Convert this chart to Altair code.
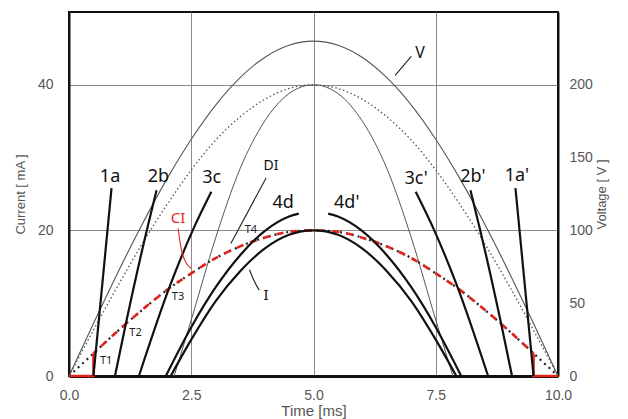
import altair as alt
import pandas as pd

# ---------------- data ----------------
T_GRID = [0.0, 0.5, 1.0, 1.5, 2.0, 2.5, 3.0, 3.5, 4.0, 4.5, 5.0,
          5.5, 6.0, 6.5, 7.0, 7.5, 8.0, 8.5, 9.0, 9.5, 10.0]
V_VOLT = [0, 36.0, 71.1, 104.4, 135.2, 162.6, 186.1, 204.9, 218.8, 227.2, 230.0,
          227.2, 218.8, 204.9, 186.1, 162.6, 135.2, 104.4, 71.1, 36.0, 0]
DOT40 = [0, 6.3, 12.4, 18.2, 23.5, 28.3, 32.4, 35.6, 38.0, 39.5, 40.0,
         39.5, 38.0, 35.6, 32.4, 28.3, 23.5, 18.2, 12.4, 6.3, 0]
CI_MA = [0, 3.1, 6.2, 9.1, 11.8, 14.1, 16.2, 17.8, 19.0, 19.8, 20.0,
         19.8, 19.0, 17.8, 16.2, 14.1, 11.8, 9.1, 6.2, 3.1, 0]

DI_T = [2.15, 2.5, 3.0, 3.5, 4.0, 4.5, 5.0, 5.5, 6.0, 6.5, 7.0, 7.5, 7.85]
DI_Y = [0, 7.7, 19.0, 28.5, 35.0, 38.8, 40.0, 38.8, 35.0, 28.5, 19.0, 7.7, 0]

I_T = [2.08, 2.5, 3.0, 3.5, 4.0, 4.5, 5.0, 5.5, 6.0, 6.5, 7.0, 7.5, 7.92]
I_Y = [0, 5.0, 10.3, 14.4, 17.5, 19.4, 20.0, 19.4, 17.5, 14.4, 10.3, 5.0, 0]

D4_T = [1.98, 2.5, 3.0, 3.5, 4.0, 4.5, 4.7]
D4_Y = [0, 6.7, 12.2, 16.6, 19.9, 21.9, 22.3]
D4P_T = [5.3, 5.5, 6.0, 6.5, 7.0, 7.5, 8.02]
D4P_Y = [22.3, 21.9, 19.9, 16.6, 12.2, 6.7, 0]

A1_T = [0.50, 0.87]
A1_Y = [0, 25.8]
A1P_T = [9.13, 9.50]
A1P_Y = [25.8, 0]
B2_T = [0.94, 1.16, 1.59, 1.79]
B2_Y = [0, 7.1, 20.0, 25.5]
B2P_T = [8.21, 8.41, 8.84, 9.06]
B2P_Y = [25.5, 20.0, 7.1, 0]
C3_T = [1.43, 2.06, 2.53, 2.91]
C3_Y = [0, 12.3, 20.0, 25.3]
C3P_T = [7.09, 7.47, 7.94, 8.57]
C3P_Y = [25.3, 20.0, 12.3, 0]

RED_STEP_L_T = [0.0, 0.5, 0.5]
RED_STEP_L_Y = [0, 0, 3.1]
RED_STEP_R_T = [9.5, 9.5, 10.0]
RED_STEP_R_Y = [3.1, 0, 0]

BIG_TEXT = ["1a", "2b", "3c", "4d", "4d'", "3c'", "2b'", "1a'"]
BIG_T = [0.84, 1.83, 2.92, 4.38, 5.68, 7.10, 8.26, 9.16]
BIG_Y = [27.4, 27.4, 27.2, 23.7, 23.7, 27.1, 27.4, 27.5]

T_TEXT = ["T1", "T2", "T3", "T4"]
T_T = [0.76, 1.36, 2.23, 3.72]
T_Y = [2.1, 5.9, 10.8, 20.0]

LEAD_V_T = [6.67, 7.0]
LEAD_V_Y = [41.3, 43.9]
LEAD_DI_T = [3.31, 4.03]
LEAD_DI_Y = [18.2, 27.2]
LEAD_I_T = [3.69, 3.79, 3.89]
LEAD_I_Y = [14.6, 13.0, 11.8]
LEAD_CI_T = [2.23, 2.30, 2.40, 2.50]
LEAD_CI_Y = [20.3, 17.3, 15.5, 14.8]


def frame(ts, ys, key="s"):
    return pd.DataFrame({"t": ts, "y": ys, "k": key})


# ---------------- encodings ----------------
x_axis = alt.Axis(values=[0, 2.5, 5, 7.5, 10], format=".1f", title="Time [ms]",
                  grid=True, gridColor="#8a8a8a", gridWidth=1, ticks=False,
                  labelPadding=12, labelFlush=False, domainColor="#111", domainWidth=3,
                  labelColor="#555", labelFontSize=14, titleColor="#555",
                  titleFontSize=15, titleY=34, titleBaseline="middle")
X = alt.X("t:Q", scale=alt.Scale(domain=[0, 10], nice=False, zero=False), axis=x_axis)

y_axis = alt.Axis(values=[0, 20, 40], title="Current [ mA ]", grid=True,
                  gridColor="#8a8a8a", gridWidth=1, ticks=False, labelPadding=16,
                  domainColor="#111", domainWidth=2, labelColor="#555",
                  labelFontSize=14, titleColor="#555", titleFontSize=13,
                  titleAngle=270, titleX=-49, titleY=182, titleAlign="center",
                  titleBaseline="middle")
Y = alt.Y("y:Q", scale=alt.Scale(domain=[0, 50], nice=False), axis=y_axis)

r_axis = alt.Axis(orient="right", values=[0, 50, 100, 150, 200], title="Voltage [ V ]",
                  grid=False, ticks=False, labelPadding=11, domainColor="#111",
                  domainWidth=2, labelColor="#555", labelFontSize=14,
                  titleColor="#555", titleFontSize=13, titleAngle=270, titleX=43,
                  titleY=182, titleAlign="center", titleBaseline="middle")
YV = alt.Y("y:Q", scale=alt.Scale(domain=[0, 250], nice=False), axis=r_axis)

# ---------------- layers ----------------
v_line = alt.Chart(frame(T_GRID, V_VOLT)).mark_line(
    color="#555", strokeWidth=1.1, interpolate="monotone").encode(x=X, y=YV)

dot40 = alt.Chart(frame(T_GRID, DOT40)).mark_line(
    color="#555", strokeWidth=1.3, strokeDash=[1.5, 2.5], interpolate="monotone"
).encode(x=X, y=Y)

di_line = alt.Chart(frame(DI_T, DI_Y)).mark_line(
    color="#555", strokeWidth=1.0, interpolate="monotone").encode(x=X, y=Y)

ci_black = alt.Chart(frame(T_GRID, CI_MA)).mark_line(
    color="#222", strokeWidth=2.2, strokeDash=[2, 4], interpolate="monotone"
).encode(x=X, y=Y)

ci_red = alt.Chart(frame(T_GRID[1:20], CI_MA[1:20])).mark_line(
    color="#e3231c", strokeWidth=2.6, strokeDash=[7, 7], strokeDashOffset=3,
    interpolate="monotone").encode(x=X, y=Y)

steps = pd.concat([frame(RED_STEP_L_T, RED_STEP_L_Y, "L"), frame(RED_STEP_R_T, RED_STEP_R_Y, "R")])
steps["i"] = list(range(len(steps)))
red_steps = alt.Chart(steps).mark_line(color="#e3231c", strokeWidth=2.6).encode(
    x=X, y=Y, detail="k:N", order="i:Q")

thick_df = pd.concat([
    frame(A1_T, A1_Y, "1a"), frame(A1P_T, A1P_Y, "1a'"),
    frame(B2_T, B2_Y, "2b"), frame(B2P_T, B2P_Y, "2b'"),
    frame(C3_T, C3_Y, "3c"), frame(C3P_T, C3P_Y, "3c'"),
    frame(D4_T, D4_Y, "4d"), frame(D4P_T, D4P_Y, "4d'"),
    frame(I_T, I_Y, "I"),
])
thick = alt.Chart(thick_df).mark_line(
    color="#111", strokeWidth=2.2, interpolate="monotone").encode(x=X, y=Y, detail="k:N")

lead_df = pd.concat([frame(LEAD_V_T, LEAD_V_Y, "V"), frame(LEAD_DI_T, LEAD_DI_Y, "DI"),
                     frame(LEAD_I_T, LEAD_I_Y, "I")])
leads = alt.Chart(lead_df).mark_line(color="#222", strokeWidth=1.1, interpolate="monotone").encode(
    x=X, y=Y, detail="k:N")
lead_ci = alt.Chart(frame(LEAD_CI_T, LEAD_CI_Y)).mark_line(
    color="#e3231c", strokeWidth=1.1, interpolate="monotone").encode(x=X, y=Y)

big_df = pd.DataFrame({"t": BIG_T, "y": BIG_Y, "txt": BIG_TEXT})
big = alt.Chart(big_df).mark_text(font="Noto Sans", fontSize=18, color="#111",
                                  baseline="middle").encode(x=X, y=Y, text="txt:N")

tl_df = pd.DataFrame({"t": T_T, "y": T_Y, "txt": T_TEXT})
tl = alt.Chart(tl_df).mark_text(font="Noto Sans", fontSize=11, color="#222",
                                baseline="middle").encode(x=X, y=Y, text="txt:N")

misc_df = pd.DataFrame({"t": [7.18, 4.13, 4.03], "y": [44.4, 28.8, 11.1],
                        "txt": ["V", "DI", "I"], "fs": [16, 14, 15]})
misc = alt.Chart(misc_df).mark_text(font="Noto Sans", color="#111", baseline="middle").encode(
    x=X, y=Y, text="txt:N", size=alt.Size("fs:Q", scale=None, legend=None))

ci_lab = alt.Chart(pd.DataFrame({"t": [2.23], "y": [21.7], "txt": ["CI"]})).mark_text(
    font="Noto Sans", fontSize=15, color="#e3231c", baseline="middle").encode(
    x=X, y=Y, text="txt:N")

left = alt.layer(dot40, di_line, ci_black, ci_red, red_steps, thick, leads, lead_ci,
                 big, tl, misc, ci_lab)

chart = alt.layer(v_line, left).resolve_scale(y="independent").properties(
    width=489, height=364,
    autosize=alt.AutoSizeParams(type="none"),
    padding={"left": 61, "top": 4, "right": 62, "bottom": 43},
).configure_view(stroke="#111", strokeWidth=2).configure_axis(
    labelFont="Liberation Sans", titleFont="Liberation Sans", titleFontWeight="normal")

chart.save("out.html", embed_options={"renderer": "svg", "actions": False})
